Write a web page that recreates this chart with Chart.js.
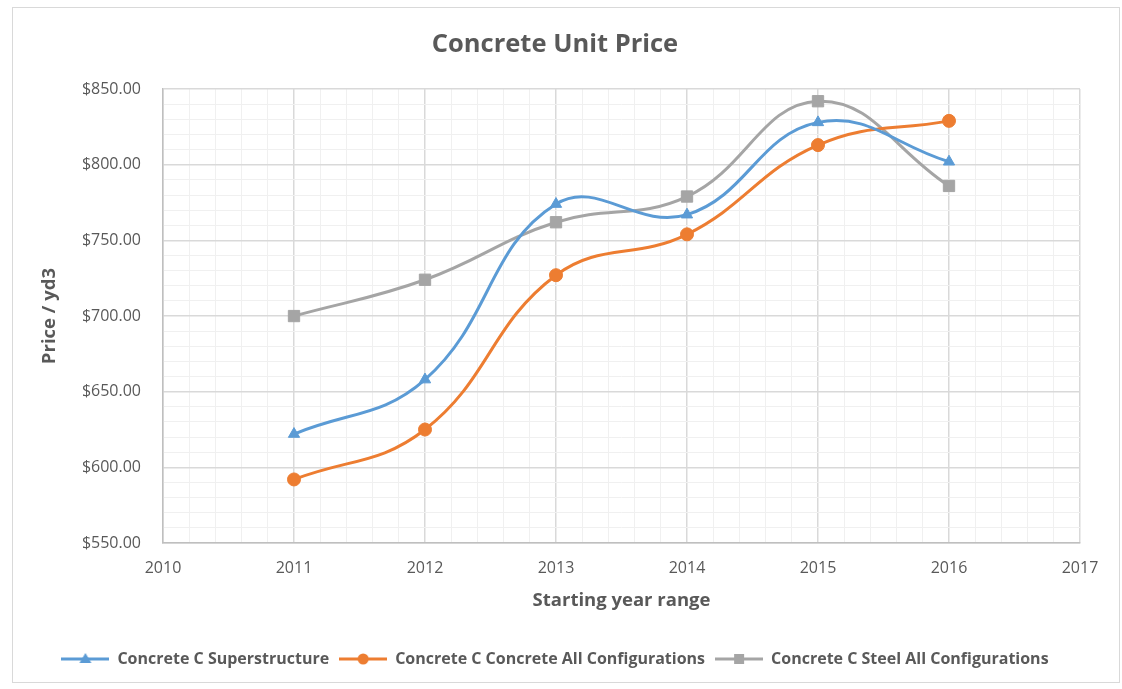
<!DOCTYPE html>
<html>
<head>
<meta charset="utf-8">
<script src="https://cdn.jsdelivr.net/npm/chart.js@4.4.1/dist/chart.umd.min.js"></script>
<style>
  html, body { margin: 0; padding: 0; background: #fff; }
  #wrap { position: relative; width: 1122px; height: 689px; }
  #frame { position: absolute; left: 12px; top: 7px; width: 1108px; height: 676px; border: 1px solid #d9d9d9; box-sizing: border-box; }
  canvas { position: absolute; left: 0; top: 0; }
</style>
</head>
<body>
<div id="wrap">
  <div id="frame"></div>
  <canvas id="priceChart" width="1122" height="689"></canvas>
</div>
<script>
// values
const years = [2011, 2012, 2013, 2014, 2015, 2016];
const superstructure = [622, 658, 774, 767, 828, 802];
const concreteAll = [592, 625, 727, 754, 813, 829];
const steelAll = [700, 724, 762, 779, 842, 786];
const seriesNames = ['Concrete C Superstructure', 'Concrete C Concrete All Configurations', 'Concrete C Steel All Configurations'];
const yTicks = [550, 600, 650, 700, 750, 800, 850];
const xTicks = [2010, 2011, 2012, 2013, 2014, 2015, 2016, 2017];

const colors = ['#5b9bd5', '#ed7d31', '#a5a5a5'];
const markers = ['triangle', 'circle', 'rect'];
const textColor = '#595959';
const fontFamily = '"Open Sans", Lato, sans-serif';

function points(values) {
  return years.map((yr, i) => ({ x: yr, y: values[i] }));
}

function isWhole(v, step) {
  const r = v / step;
  return Math.abs(r - Math.round(r)) < 1e-6;
}

// legend swatch: short line with the marker in the middle, like Excel
function legendSwatch(color, shape) {
  const c = document.createElement('canvas');
  c.width = 48; c.height = 14;
  const g = c.getContext('2d');
  g.strokeStyle = color;
  g.fillStyle = color;
  g.lineWidth = 3;
  g.beginPath(); g.moveTo(0, 7); g.lineTo(48, 7); g.stroke();
  g.beginPath();
  if (shape === 'triangle') {
    g.moveTo(24, 1); g.lineTo(30, 11); g.lineTo(18, 11); g.closePath();
  } else if (shape === 'circle') {
    g.arc(24, 7, 5.5, 0, Math.PI * 2);
  } else {
    g.rect(19, 2, 10, 10);
  }
  g.fill();
  return c;
}
const swatches = colors.map((c, i) => legendSwatch(c, markers[i]));

const datasets = [superstructure, concreteAll, steelAll].map((vals, i) => ({
  label: seriesNames[i],
  data: points(vals),
  borderColor: colors[i],
  backgroundColor: colors[i],
  borderWidth: 3,
  pointStyle: markers[i],
  pointRadius: markers[i] === 'rect' ? 8 : 6.5,
  pointHoverRadius: 7,
  pointBorderWidth: 1,
  tension: 0.42,
  fill: false
}));

new Chart(document.getElementById('priceChart'), {
  type: 'line',
  data: { datasets: datasets },
  options: {
    responsive: false,
    devicePixelRatio: 1,
    animation: false,
    layout: { padding: { left: 30, right: 42, top: 0, bottom: 12 } },
    plugins: {
      title: {
        display: true,
        text: 'Concrete Unit Price',
        color: textColor,
        font: { family: fontFamily, size: 25.5, weight: 'bold' },
        padding: { top: 29.5, bottom: 29 }
      },
      legend: {
        position: 'bottom',
        labels: {
          color: textColor,
          font: { family: fontFamily, size: 16, weight: 'bold' },
          usePointStyle: true,
          pointStyleWidth: 48,
          padding: 10,
          generateLabels: function(chart) {
            const items = Chart.defaults.plugins.legend.labels.generateLabels(chart);
            items.forEach((it, i) => { it.pointStyle = swatches[i]; });
            return items;
          }
        }
      },
      tooltip: { enabled: false }
    },
    scales: {
      x: {
        type: 'linear',
        min: 2010,
        max: 2017,
        afterBuildTicks: function(scale) {
          const t = [];
          for (let i = 0; i <= 35; i++) t.push({ value: 2010 + i * 0.2 });
          scale.ticks = t;
        },
        afterFit: function(scale) { scale.height = 98; },
        ticks: {
          autoSkip: false,
          maxRotation: 0,
          padding: 16,
          color: textColor,
          font: { family: fontFamily, size: 16 },
          callback: function(v) { return isWhole(v, 1) && xTicks.includes(Math.round(v)) ? String(Math.round(v)) : ''; }
        },
        grid: {
          drawTicks: false,
          color: function(ctx) { return ctx.tick && isWhole(ctx.tick.value, 1) ? '#d9d9d9' : '#f0f0f0'; },
          lineWidth: function(ctx) { return ctx.tick && isWhole(ctx.tick.value, 1) ? 1.5 : 1; }
        },
        border: { color: '#bfbfbf', width: 1.5 },
        title: {
          display: true,
          text: 'Starting year range',
          color: textColor,
          font: { family: fontFamily, size: 18.5, weight: 'bold' },
          padding: { top: 0, bottom: 29 }
        }
      },
      y: {
        min: 550,
        max: 850,
        afterBuildTicks: function(scale) {
          const t = [];
          for (let v = 550; v <= 850; v += 10) t.push({ value: v });
          scale.ticks = t;
        },
        afterFit: function(scale) { scale.width = 133; },
        ticks: {
          autoSkip: false,
          padding: 22,
          color: textColor,
          font: { family: fontFamily, size: 16 },
          callback: function(v) { return yTicks.includes(v) ? '$' + v.toFixed(2) : ''; }
        },
        grid: {
          drawTicks: false,
          color: function(ctx) { return ctx.tick && isWhole(ctx.tick.value, 50) ? '#d9d9d9' : '#f0f0f0'; },
          lineWidth: function(ctx) { return ctx.tick && isWhole(ctx.tick.value, 50) ? 1.5 : 1; }
        },
        border: { color: '#bfbfbf', width: 1.5 },
        title: {
          display: true,
          text: 'Price / yd3',
          color: textColor,
          font: { family: fontFamily, size: 18.5, weight: 'bold' },
          padding: { top: 9, bottom: 0 }
        }
      }
    }
  }
});
</script>
</body>
</html>
